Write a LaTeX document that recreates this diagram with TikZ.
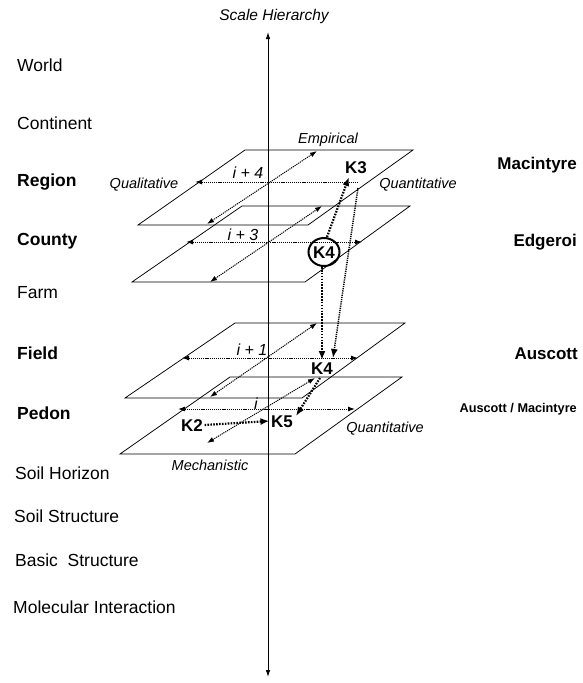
\documentclass[tikz,border=0pt]{standalone}
\usepackage{fontspec}
\setmainfont{Liberation Sans}
\usetikzlibrary{arrows.meta,calc,shapes.geometric}
\begin{document}
\begin{tikzpicture}[x=1pt,y=-1pt,
  plane/.style={draw, line width=0.75pt},
  axisdot/.style={line width=1pt, dash pattern=on 1.2pt off 0.9pt},
  kdot/.style={line width=2.2pt, dash pattern=on 1.6pt off 1.3pt, -{Latex[length=9pt,width=7pt]}},
  kthin/.style={line width=1.5pt, dash pattern=on 1.2pt off 1pt, -{Latex[length=9pt,width=7pt]}},
  level/.style={anchor=west, inner sep=0, text height=12.4pt, text depth=0pt, font=\fontsize{17.5}{20}\selectfont},
  levelb/.style={level, font=\fontsize{17.5}{20}\selectfont\bfseries},
  site/.style={anchor=east, inner sep=0, text height=12.2pt, text depth=0pt, font=\fontsize{17}{20}\selectfont\bfseries},
  dim/.style={inner sep=0, text height=10.4pt, text depth=0pt, font=\fontsize{14.5}{17}\selectfont\itshape},
  idx/.style={inner sep=0, text height=11.5pt, text depth=0pt, font=\fontsize{16}{19}\selectfont\itshape},
  kl/.style={inner sep=1.5pt, text height=12.2pt, text depth=0pt, font=\fontsize{17}{20}\selectfont\bfseries},
  both/.style={axisdot, {Latex[length=7pt,width=5pt]}-{Latex[length=7pt,width=5pt]}},
  leftonly/.style={axisdot, {Latex[length=7pt,width=5pt]}-},
]
\useasboundingbox (0,0) rectangle (582,683);

% vertical scale axis
\coordinate (axT) at (268,32);
\coordinate (axB) at (268,677);
\draw[line width=0.9pt, {Latex[length=7pt,width=4.5pt]}-{Latex[length=7pt,width=4.5pt]}] (axB) -- (axT);
\node[inner sep=0, font=\fontsize{15.5}{18}\selectfont\itshape] (title) at (274,16) {Scale Hierarchy};

% left scale levels
\node[level]  (world) at (17,65)  {World};
\node[level]  (cont)  at (17,123) {Continent};
\node[levelb] (reg)   at (17,180) {Region};
\node[levelb] (cty)   at (17,239) {County};
\node[level]  (farm)  at (17,292) {Farm};
\node[levelb] (field) at (17,353) {Field};
\node[levelb] (pedon) at (17,413) {Pedon};
\node[level]  (hor)   at (15,473) {Soil Horizon};
\node[level]  (sst)   at (14,516) {Soil Structure};
\node[level]  (bst)   at (15,560) {Basic~ Structure};
\node[level]  (mol)   at (13,607) {Molecular Interaction};

% right sites
\node[site] (mac) at (577,163) {Macintyre};
\node[site] (edg) at (577,240) {Edgeroi};
\node[site] (aus) at (578,353) {Auscott};
\node[anchor=east, inner sep=0, text height=9.1pt, text depth=0pt, font=\fontsize{12.7}{15}\selectfont\bfseries] (ausmac) at (577,408) {Auscott / Macintyre};

% plane i+4
\draw[plane] (138,225) -- (308,225) -- (413,150) -- (245,150) -- cycle;
\coordinate (p4l) at (195,182); \coordinate (p4r) at (357,182);
\coordinate (p4b) at (207,224); \coordinate (p4t) at (317,151);
\draw[leftonly] (p4l) -- (p4r);
\draw[both] (p4b) -- (p4t);

% plane i+3
\draw[plane] (132,282) -- (305,282) -- (410,206) -- (242,206) -- cycle;
\coordinate (p3l) at (186,242); \coordinate (p3r) at (362,242);
\coordinate (p3b) at (210,282); \coordinate (p3t) at (322,206);
\draw[both] (p3l) -- (p3r);
\draw[both] (p3b) -- (p3t);

% plane i+1
\draw[plane] (125,398) -- (302,398) -- (405,323) -- (235,323) -- cycle;
\coordinate (p1l) at (182,358); \coordinate (p1r) at (358,358);
\coordinate (p1b) at (210,397); \coordinate (p1t) at (317,323);
\draw[both] (p1l) -- (p1r);
\draw[both] (p1b) -- (p1t);

% plane i
\draw[plane] (120,454) -- (295,454) -- (402,377) -- (230,377) -- cycle;
\coordinate (p0l) at (178,409); \coordinate (p0r) at (355,409);
\coordinate (p0b) at (207,443); \coordinate (p0t) at (315,378);
\draw[both] (p0l) -- (p0r);
\draw[both] (p0b) -- (p0t);

% dimension labels
\node[dim] (emp)  at (328,138) {Empirical};
\node[dim] (qual) at (144,183) {Qualitative};
\node[dim] (quan1) at (418,183) {Quantitative};
\node[dim] (quan0) at (385,427) {Quantitative};
\node[dim] (mech) at (210,465) {Mechanistic};

% plane indices
\node[idx] (i4) at (248,173) {i + 4};
\node[idx] (i3) at (243,235) {i + 3};
\node[idx] (i1) at (252,350) {i + 1};
\node[idx] (i0) at (256,404) {i};

% knowledge nodes
\node[kl] (K3) at (356,167) {K3};
\node[kl, draw, ellipse, line width=2pt, inner sep=0, minimum width=31pt, minimum height=28pt] (K4c) at (324,252) {K4};
\node[kl] (K4) at (322,368) {K4};
\node[kl] (K5) at (282,421) {K5};
\node[kl] (K2) at (192,425) {K2};

% knowledge transfers
\draw[kdot] ($(K4c.north)+(3,0)$) -- ($(K3.center)+(-7,10)$);
\draw[kthin] ($(K3.center)+(2,21)$) -- ($(K4.center)+(11,-10)$);
\draw[kdot] ($(K4c.south)+(-2,0)$) -- ($(K4.center)+(0,-8)$);
\draw[kdot] ($(K4.center)+(-2,10)$) -- ($(K5.center)+(14,-5)$);
\draw[kdot] (K2.east) -- (K5.west);
\end{tikzpicture}
\end{document}
